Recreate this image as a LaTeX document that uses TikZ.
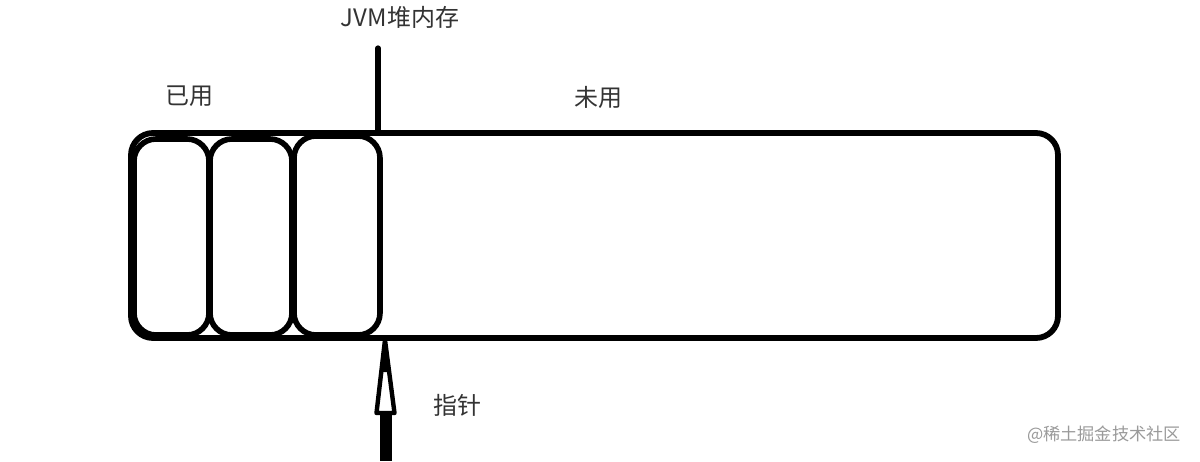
\documentclass[tikz,border=0pt]{standalone}
\usepackage{fontspec}
\setmainfont{Noto Sans CJK SC}
\definecolor{labelgray}{HTML}{333333}
\definecolor{markgray}{HTML}{9A9A9A}
\tikzset{
  heap/.style={line width=2.9pt, rounded corners=11pt},
  block/.style={line width=2.8pt, rounded corners=11pt},
  lbl/.style={text=labelgray, font=\fontsize{12pt}{14pt}\selectfont, inner sep=0pt},
  wmark/.style={text=markgray, font=\fontsize{8.6pt}{10pt}\selectfont, inner sep=0pt}
}
\begin{document}
\begin{tikzpicture}[x=0.5pt,y=-0.5pt]
\useasboundingbox[fill=white] (0,0) rectangle (1200,461);
% outer heap
\draw[heap] (131,133) rectangle (1058,338);
% used blocks
\draw[block] (134,139) rectangle (209,335);
\draw[block] (210,139) rectangle (292,335);
\draw[block] (294,136) rectangle (380,335);
\draw[line width=1.8pt] (292,134) -- (376,134);
% top marker line
\coordinate (topend) at (378,48);
\coordinate (topbase) at (378,133);
\draw[line width=2.6pt, line cap=round] (topend) -- (topbase);
% pointer arrow
\coordinate (tip) at (385,340);
\fill (379.5,412) rectangle (391.5,461);
\draw[line width=2.2pt, fill=white, line join=round] (tip) -- (376.5,413) -- (394.5,413) -- cycle;
\fill (385,340) -- (382,372) -- (388,372) -- cycle;
% labels
\node[lbl] (jvm) at (400,17) {JVM堆内存};
\node[lbl] (used) at (189,96) {已用};
\node[lbl] (free) at (598,97) {未用};
\node[lbl] (ptr) at (457,405) {指针};
\node[wmark] (wm) at (1104,435) {@稀土掘金技术社区};
\end{tikzpicture}
\end{document}
